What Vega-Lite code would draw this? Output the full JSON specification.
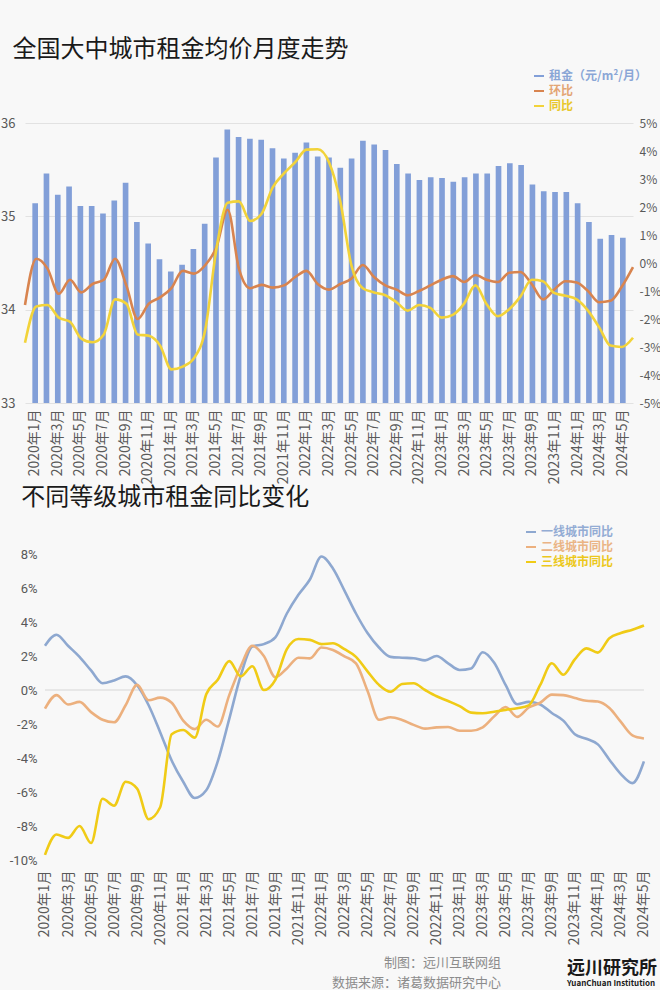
{
  "$schema": "https://vega.github.io/schema/vega-lite/v6.json",
  "background": "#f8f8f8",
  "padding": {"left": 0, "top": 38, "right": 0, "bottom": 0},
  "spacing": 2,
  "resolve": {"scale": {"color": "independent"}, "legend": {"color": "independent"}},
  "config": {
    "view": {"stroke": null},
    "font": "Noto Sans CJK SC",
    "axis": {"labelFont": "Noto Sans CJK SC", "labelColor": "#595959", "labelFontSize": 12, "domain": false, "ticks": false, "grid": false, "title": null, "labelOverlap": false},
    "title": {"font": "Noto Sans CJK SC", "fontWeight": "normal", "color": "#1a1a1a"},
    "legend": {"title": null, "symbolType": "stroke", "symbolSize": 100, "symbolStrokeWidth": 2, "labelFont": "Noto Sans CJK SC", "labelFontSize": 12, "labelFontWeight": "bold", "rowPadding": 3, "labelOffset": 4}
  },
  "vconcat": [
    {
      "hconcat": [
        {
          "width": 608,
          "height": 280,
          "title": {"text": "全国大中城市租金均价月度走势", "anchor": "start", "frame": "bounds", "fontSize": 24, "dx": 12, "offset": 55},
          "layer": [
            {
              "data": {"values": [
                {"month": "2020年1月", "rent": 35.14}, {"month": "2020年2月", "rent": 35.46}, {"month": "2020年3月", "rent": 35.23}, {"month": "2020年4月", "rent": 35.32},
                {"month": "2020年5月", "rent": 35.11}, {"month": "2020年6月", "rent": 35.11}, {"month": "2020年7月", "rent": 35.03}, {"month": "2020年8月", "rent": 35.17},
                {"month": "2020年9月", "rent": 35.36}, {"month": "2020年10月", "rent": 34.94}, {"month": "2020年11月", "rent": 34.71}, {"month": "2020年12月", "rent": 34.54},
                {"month": "2021年1月", "rent": 34.41}, {"month": "2021年2月", "rent": 34.48}, {"month": "2021年3月", "rent": 34.65}, {"month": "2021年4月", "rent": 34.92},
                {"month": "2021年5月", "rent": 35.63}, {"month": "2021年6月", "rent": 35.93}, {"month": "2021年7月", "rent": 35.85}, {"month": "2021年8月", "rent": 35.83},
                {"month": "2021年9月", "rent": 35.82}, {"month": "2021年10月", "rent": 35.73}, {"month": "2021年11月", "rent": 35.62}, {"month": "2021年12月", "rent": 35.68},
                {"month": "2022年1月", "rent": 35.79}, {"month": "2022年2月", "rent": 35.64}, {"month": "2022年3月", "rent": 35.63}, {"month": "2022年4月", "rent": 35.52},
                {"month": "2022年5月", "rent": 35.62}, {"month": "2022年6月", "rent": 35.81}, {"month": "2022年7月", "rent": 35.77}, {"month": "2022年8月", "rent": 35.71},
                {"month": "2022年9月", "rent": 35.56}, {"month": "2022年10月", "rent": 35.46}, {"month": "2022年11月", "rent": 35.39}, {"month": "2022年12月", "rent": 35.42},
                {"month": "2023年1月", "rent": 35.41}, {"month": "2023年2月", "rent": 35.37}, {"month": "2023年3月", "rent": 35.42}, {"month": "2023年4月", "rent": 35.46},
                {"month": "2023年5月", "rent": 35.46}, {"month": "2023年6月", "rent": 35.54}, {"month": "2023年7月", "rent": 35.57}, {"month": "2023年8月", "rent": 35.55},
                {"month": "2023年9月", "rent": 35.34}, {"month": "2023年10月", "rent": 35.27}, {"month": "2023年11月", "rent": 35.26}, {"month": "2023年12月", "rent": 35.26},
                {"month": "2024年1月", "rent": 35.14}, {"month": "2024年2月", "rent": 34.94}, {"month": "2024年3月", "rent": 34.76}, {"month": "2024年4月", "rent": 34.8},
                {"month": "2024年5月", "rent": 34.77}
              ]},
              "mark": {"type": "bar", "color": "#829fd8"},
              "encoding": {
                "x": {"field": "month", "type": "ordinal", "sort": null,
                      "scale": {"paddingInner": 0.5, "paddingOuter": 0.65},
                      "axis": {"values": ["2020年1月","2020年3月","2020年5月","2020年7月","2020年9月","2020年11月","2021年1月","2021年3月","2021年5月","2021年7月","2021年9月","2021年11月","2022年1月","2022年3月","2022年5月","2022年7月","2022年9月","2022年11月","2023年1月","2023年3月","2023年5月","2023年7月","2023年9月","2023年11月","2024年1月","2024年3月","2024年5月"],
                               "labelAngle": -90, "labelPadding": 6, "labelFontSize": 14}},
                "y": {"field": "rent", "type": "quantitative",
                      "scale": {"domain": [33, 36], "zero": false, "nice": false},
                      "axis": {"orient": "left", "values": [33, 34, 35, 36], "grid": true, "gridColor": "#e2e2e2", "labelFontSize": 13, "labelPadding": 10, "labelOverlap": false}},
                "y2": {"datum": 33}
              }
            },
            {
              "data": {"values": [
                {"i": 1, "环比": -1.5, "同比": -2.85}, {"i": 2, "环比": 0.15, "同比": -1.55}, {"i": 3, "环比": -0.2, "同比": -1.5}, {"i": 4, "环比": -1.1, "同比": -1.95},
                {"i": 5, "环比": -0.6, "同比": -2.1}, {"i": 6, "环比": -1.05, "同比": -2.7}, {"i": 7, "环比": -0.75, "同比": -2.83}, {"i": 8, "环比": -0.6, "同比": -2.55},
                {"i": 9, "环比": 0.15, "同比": -1.3}, {"i": 10, "环比": -0.8, "同比": -1.45}, {"i": 11, "环比": -2.0, "同比": -2.55}, {"i": 12, "环比": -1.45, "同比": -2.6},
                {"i": 13, "环比": -1.23, "同比": -2.95}, {"i": 14, "环比": -0.9, "同比": -3.8}, {"i": 15, "环比": -0.28, "同比": -3.7}, {"i": 16, "环比": -0.38, "同比": -3.4},
                {"i": 17, "环比": -0.08, "同比": -2.4}, {"i": 18, "环比": 0.56, "同比": 0.5}, {"i": 19, "环比": 1.9, "同比": 2.15}, {"i": 20, "环比": -0.2, "同比": 2.2},
                {"i": 21, "环比": -0.9, "同比": 1.5}, {"i": 22, "环比": -0.78, "同比": 1.75}, {"i": 23, "环比": -0.88, "同比": 2.7}, {"i": 24, "环比": -0.8, "同比": 3.2},
                {"i": 25, "环比": -0.5, "同比": 3.6}, {"i": 26, "环比": -0.28, "同比": 4.05}, {"i": 27, "环比": -0.75, "同比": 4.06}, {"i": 28, "环比": -0.95, "同比": 3.6},
                {"i": 29, "环比": -0.75, "同比": 2.2}, {"i": 30, "环比": -0.55, "同比": -0.1}, {"i": 31, "环比": -0.07, "同比": -0.9}, {"i": 32, "环比": -0.5, "同比": -1.05},
                {"i": 33, "环比": -0.8, "同比": -1.15}, {"i": 34, "环比": -0.95, "同比": -1.4}, {"i": 35, "环比": -1.15, "同比": -1.7}, {"i": 36, "环比": -1.0, "同比": -1.5},
                {"i": 37, "环比": -0.8, "同比": -1.6}, {"i": 38, "环比": -0.6, "同比": -1.95}, {"i": 39, "环比": -0.47, "同比": -1.85}, {"i": 40, "环比": -0.68, "同比": -1.45},
                {"i": 41, "环比": -0.43, "同比": -0.8}, {"i": 42, "环比": -0.6, "同比": -1.47}, {"i": 43, "环比": -0.68, "同比": -1.9}, {"i": 44, "环比": -0.35, "同比": -1.65},
                {"i": 45, "环比": -0.32, "同比": -1.2}, {"i": 46, "环比": -0.75, "同比": -0.6}, {"i": 47, "环比": -1.3, "同比": -0.65}, {"i": 48, "环比": -0.95, "同比": -1.07},
                {"i": 49, "环比": -0.65, "同比": -1.17}, {"i": 50, "环比": -0.7, "同比": -1.3}, {"i": 51, "环比": -1.0, "同比": -1.7}, {"i": 52, "环比": -1.4, "同比": -2.3},
                {"i": 53, "环比": -1.35, "同比": -2.95}, {"i": 54, "环比": -0.85, "同比": -3.0}, {"i": 55, "环比": -0.15, "同比": -2.67}
              ]},
              "transform": [{"fold": ["环比", "同比"], "as": ["series", "v"]}],
              "mark": {"type": "line", "interpolate": "monotone", "strokeWidth": 2.6},
              "encoding": {
                "x": {"field": "i", "type": "quantitative", "scale": {"domain": [1, 55], "nice": false, "zero": false}, "axis": null},
                "y": {"field": "v", "type": "quantitative",
                      "scale": {"domain": [-5, 5], "nice": false, "zero": false},
                      "axis": {"orient": "right", "values": [-5, -4, -3, -2, -1, 0, 1, 2, 3, 4, 5], "labelExpr": "datum.value + '%'", "labelFontSize": 12, "labelPadding": 6, "labelOverlap": false}},
                "color": {"field": "series", "type": "nominal",
                          "scale": {"domain": ["租金（元/m²/月）", "环比", "同比"], "range": ["#829fd8", "#d8844f", "#f2d33a"]},
                          "legend": {"orient": "none", "legendX": 508, "legendY": -53,
                                     "encode": {"labels": {"update": {"fill": {"signal": "datum.value === '环比' ? '#e3a574' : datum.value === '同比' ? '#e8c72c' : '#8aa6d6'"}}}}}}
              }
            }
          ],
          "resolve": {"scale": {"x": "independent", "y": "independent"}}
        }
      ]
    },
    {
      "hconcat": [
        {
          "width": 622,
          "height": 306,
          "title": {"text": "不同等级城市租金同比变化", "anchor": "start", "frame": "bounds", "fontSize": 24, "dx": 12, "offset": 38},
          "layer": [
            {
              "data": {"values": [{"z": 0}]},
              "mark": {"type": "rule", "color": "#d6d6d6", "strokeWidth": 1},
              "encoding": {
                "x": {"datum": "2020年1月", "type": "ordinal"},
                "x2": {"datum": "2024年5月"},
                "y": {"field": "z", "type": "quantitative",
                      "axis": {"values": [-10, -8, -6, -4, -2, 0, 2, 4, 6, 8], "labelExpr": "datum.value + '%'", "labelFont": "Roboto", "labelFontSize": 13, "labelPadding": -12, "labelOverlap": false, "labelSeparation": 0}}
              }
            },
            {
              "data": {"values": [
                {"month": "2020年1月", "一线城市同比": 2.6, "二线城市同比": -1.1, "三线城市同比": -9.7},
                {"month": "2020年2月", "一线城市同比": 3.25, "二线城市同比": -0.3, "三线城市同比": -8.5},
                {"month": "2020年3月", "一线城市同比": 2.6, "二线城市同比": -0.85, "三线城市同比": -8.7},
                {"month": "2020年4月", "一线城市同比": 1.95, "二线城市同比": -0.7, "三线城市同比": -8.0},
                {"month": "2020年5月", "一线城市同比": 1.15, "二线城市同比": -1.3, "三线城市同比": -9.0},
                {"month": "2020年6月", "一线城市同比": 0.4, "二线城市同比": -1.75, "三线城市同比": -6.4},
                {"month": "2020年7月", "一线城市同比": 0.56, "二线城市同比": -1.9, "三线城市同比": -6.8},
                {"month": "2020年8月", "一线城市同比": 0.8, "二线城市同比": -0.9, "三线城市同比": -5.4},
                {"month": "2020年9月", "一线城市同比": 0.28, "二线城市同比": 0.3, "三线城市同比": -5.8},
                {"month": "2020年10月", "一线城市同比": -0.9, "二线城市同比": -0.6, "三线城市同比": -7.6},
                {"month": "2020年11月", "一线城市同比": -2.48, "二线城市同比": -0.45, "三线城市同比": -6.9},
                {"month": "2020年12月", "一线城市同比": -4.15, "二线城市同比": -0.75, "三线城市同比": -2.6},
                {"month": "2021年1月", "一线城市同比": -5.4, "二线城市同比": -1.8, "三线城市同比": -2.35},
                {"month": "2021年2月", "一线城市同比": -6.35, "二线城市同比": -2.3, "三线城市同比": -2.8},
                {"month": "2021年3月", "一线城市同比": -5.9, "二线城市同比": -1.75, "三线城市同比": -0.25},
                {"month": "2021年4月", "一线城市同比": -4.2, "二线城市同比": -2.15, "三线城市同比": 0.6},
                {"month": "2021年5月", "一线城市同比": -1.7, "二线城市同比": -0.3, "三线城市同比": 1.7},
                {"month": "2021年6月", "一线城市同比": 0.86, "二线城市同比": 1.4, "三线城市同比": 0.8},
                {"month": "2021年7月", "一线城市同比": 2.55, "二线城市同比": 2.6, "三线城市同比": 1.4},
                {"month": "2021年8月", "一线城市同比": 2.7, "二线城市同比": 2.0, "三线城市同比": 0.0},
                {"month": "2021年9月", "一线城市同比": 3.1, "二线城市同比": 0.75, "三线城市同比": 0.6},
                {"month": "2021年10月", "一线城市同比": 4.5, "二线城市同比": 1.27, "三线城市同比": 2.4},
                {"month": "2021年11月", "一线城市同比": 5.6, "二线城市同比": 1.9, "三线城市同比": 3.0},
                {"month": "2021年12月", "一线城市同比": 6.5, "二线城市同比": 1.86, "三线城市同比": 2.95},
                {"month": "2022年1月", "一线城市同比": 7.85, "二线城市同比": 2.5, "三线城市同比": 2.7},
                {"month": "2022年2月", "一线城市同比": 7.15, "二线城市同比": 2.35, "三线城市同比": 2.75},
                {"month": "2022年3月", "一线城市同比": 5.85, "二线城市同比": 1.98, "三线城市同比": 2.4},
                {"month": "2022年4月", "一线城市同比": 4.5, "二线城市同比": 1.57, "三线城市同比": 1.95},
                {"month": "2022年5月", "一线城市同比": 3.35, "二线城市同比": -0.05, "三线城市同比": 1.1},
                {"month": "2022年6月", "一线城市同比": 2.5, "二线城市同比": -1.75, "三线城市同比": 0.3},
                {"month": "2022年7月", "一线城市同比": 1.95, "二线城市同比": -1.6, "三线城市同比": -0.1},
                {"month": "2022年8月", "一线城市同比": 1.9, "二线城市同比": -1.76, "三线城市同比": 0.35},
                {"month": "2022年9月", "一线城市同比": 1.87, "二线城市同比": -2.05, "三线城市同比": 0.4},
                {"month": "2022年10月", "一线城市同比": 1.74, "二线城市同比": -2.27, "三线城市同比": 0.0},
                {"month": "2022年11月", "一线城市同比": 2.0, "二线城市同比": -2.2, "三线城市同比": -0.37},
                {"month": "2022年12月", "一线城市同比": 1.57, "二线城市同比": -2.18, "三线城市同比": -0.65},
                {"month": "2023年1月", "一线城市同比": 1.18, "二线城市同比": -2.4, "三线城市同比": -0.95},
                {"month": "2023年2月", "一线城市同比": 1.27, "二线城市同比": -2.4, "三线城市同比": -1.33},
                {"month": "2023年3月", "一线城市同比": 2.22, "二线城市同比": -2.2, "三线城市同比": -1.37},
                {"month": "2023年4月", "一线城市同比": 1.6, "二线城市同比": -1.55, "三线城市同比": -1.28},
                {"month": "2023年5月", "一线城市同比": 0.28, "二线城市同比": -1.0, "三线城市同比": -1.17},
                {"month": "2023年6月", "一线城市同比": -0.84, "二线城市同比": -1.58, "三线城市同比": -1.07},
                {"month": "2023年7月", "一线城市同比": -0.7, "二线城市同比": -1.03, "三线城市同比": -0.9},
                {"month": "2023年8月", "一线城市同比": -0.85, "二线城市同比": -0.75, "三线城市同比": 0.3},
                {"month": "2023年9月", "一线城市同比": -1.35, "二线城市同比": -0.27, "三线城市同比": 1.57},
                {"month": "2023年10月", "一线城市同比": -1.8, "二线城市同比": -0.3, "三线城市同比": 0.9},
                {"month": "2023年11月", "一线城市同比": -2.6, "二线城市同比": -0.47, "三线城市同比": 1.8},
                {"month": "2023年12月", "一线城市同比": -2.87, "二线城市同比": -0.63, "三线城市同比": 2.45},
                {"month": "2024年1月", "一线城市同比": -3.2, "二线城市同比": -0.68, "三线城市同比": 2.2},
                {"month": "2024年2月", "一线城市同比": -4.1, "二线城市同比": -1.06, "三线城市同比": 3.05},
                {"month": "2024年3月", "一线城市同比": -4.95, "二线城市同比": -1.88, "三线城市同比": 3.35},
                {"month": "2024年4月", "一线城市同比": -5.48, "二线城市同比": -2.67, "三线城市同比": 3.55},
                {"month": "2024年5月", "一线城市同比": -4.2, "二线城市同比": -2.85, "三线城市同比": 3.8}
              ]},
              "transform": [{"fold": ["一线城市同比", "二线城市同比", "三线城市同比"], "as": ["series", "v"]}],
              "mark": {"type": "line", "interpolate": "monotone", "strokeWidth": 2.6},
              "encoding": {
                "x": {"field": "month", "type": "ordinal",
                      "scale": {"type": "point", "padding": 1.667, "align": 0.867,
                                "domain": ["2020年1月","2020年2月","2020年3月","2020年4月","2020年5月","2020年6月","2020年7月","2020年8月","2020年9月","2020年10月","2020年11月","2020年12月","2021年1月","2021年2月","2021年3月","2021年4月","2021年5月","2021年6月","2021年7月","2021年8月","2021年9月","2021年10月","2021年11月","2021年12月","2022年1月","2022年2月","2022年3月","2022年4月","2022年5月","2022年6月","2022年7月","2022年8月","2022年9月","2022年10月","2022年11月","2022年12月","2023年1月","2023年2月","2023年3月","2023年4月","2023年5月","2023年6月","2023年7月","2023年8月","2023年9月","2023年10月","2023年11月","2023年12月","2024年1月","2024年2月","2024年3月","2024年4月","2024年5月"]},
                      "axis": {"values": ["2020年1月","2020年3月","2020年5月","2020年7月","2020年9月","2020年11月","2021年1月","2021年3月","2021年5月","2021年7月","2021年9月","2021年11月","2022年1月","2022年3月","2022年5月","2022年7月","2022年9月","2022年11月","2023年1月","2023年3月","2023年5月","2023年7月","2023年9月","2023年11月","2024年1月","2024年3月","2024年5月"],
                               "labelAngle": -90, "labelPadding": 10, "labelFontSize": 14}},
                "y": {"field": "v", "type": "quantitative",
                      "scale": {"domain": [-10, 8], "nice": false, "zero": false},
                      "axis": {"values": [-10, -8, -6, -4, -2, 0, 2, 4, 6, 8], "labelExpr": "datum.value + '%'", "labelFont": "Roboto", "labelFontSize": 13, "labelPadding": -12, "labelOverlap": false, "labelSeparation": 0}},
                "color": {"field": "series", "type": "nominal",
                          "scale": {"domain": ["一线城市同比", "二线城市同比", "三线城市同比"], "range": ["#8ea8d0", "#ecb07e", "#f0cb16"]},
                          "legend": {"orient": "none", "legendX": 500, "legendY": -28,
                                     "encode": {"labels": {"update": {"fill": {"signal": "datum.value === '二线城市同比' ? '#eab485' : datum.value === '三线城市同比' ? '#ecc81c' : '#93acd4'"}}}}}}
              }
            }
          ]
        }
      ]
    },
    {
      "hconcat": [
        {
          "width": 476,
          "height": 1,
          "data": {"values": []},
          "mark": "text",
          "title": {"text": ["制图：远川互联网组", "数据来源：诸葛数据研究中心"], "anchor": "end", "frame": "group", "fontSize": 13, "color": "#8c8c8c", "lineHeight": 20, "offset": 2, "dy": 45}
        },
        {
          "width": 95,
          "height": 1,
          "data": {"values": []},
          "mark": "text",
          "title": {"text": "远川研究所", "subtitle": "YuanChuan Institution", "anchor": "start", "frame": "group", "fontSize": 18, "fontWeight": "bold", "color": "#1a1a1a", "subtitleFontSize": 8, "subtitleFontWeight": "bold", "subtitleColor": "#1a1a1a", "subtitlePadding": 2, "offset": 4, "dy": 45}
        }
      ],
      "spacing": 66
    }
  ]
}
